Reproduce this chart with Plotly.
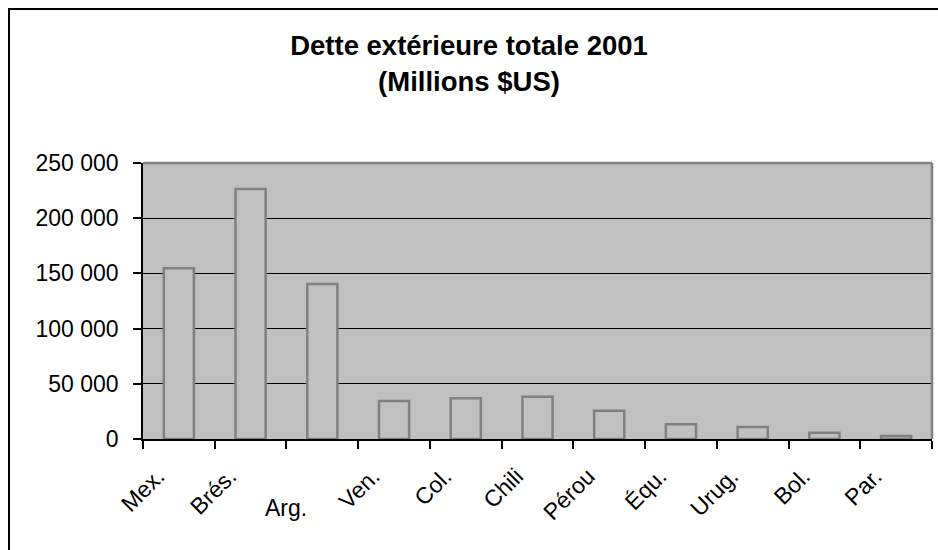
import plotly.graph_objects as go

categories = ["Mex.", "Brés.", "Arg.", "Ven.", "Col.", "Chili", "Pérou", "Équ.", "Urug.", "Bol.", "Par."]
debt_values = [154600, 226400, 140400, 34400, 36800, 38300, 25600, 13300, 10900, 5700, 2700]
y_tick_vals = [0, 50000, 100000, 150000, 200000, 250000]
y_tick_text = ["0", "50 000", "100 000", "150 000", "200 000", "250 000"]
# "Arg." is drawn horizontally in the reference, so it is left out of the rotated tick labels
x_tick_text = ["Mex.", "Brés.", "", "Ven.", "Col.", "Chili", "Pérou", "Équ.", "Urug.", "Bol.", "Par."]
flat_label = "Arg."

FONT = "Liberation Sans, Arial, sans-serif"
W, H = 938, 550
L, R, T, B = 143, 6, 163, 111
pw, ph = W - L - R, H - T - B

fig = go.Figure()
fig.add_trace(go.Bar(
    x=categories, y=debt_values,
    marker=dict(color="#C0C0C0", line=dict(color="#808080", width=2.5)),
    width=0.42,
))

fig.update_layout(
    width=W, height=H,
    margin=dict(l=L, r=R, t=T, b=B, pad=0),
    paper_bgcolor="white",
    plot_bgcolor="#C0C0C0",
    showlegend=False,
    font=dict(family=FONT, size=23, color="black"),
    title=dict(
        text="<b>Dette extérieure totale 2001<br>(Millions $US)</b>",
        x=0.5, xanchor="center", xref="container",
        y=1 - 55 / H, yanchor="top", yref="container",
        font=dict(family=FONT, size=27.5, color="black"),
    ),
    xaxis=dict(
        type="category",
        range=[-0.5, len(categories) - 0.5],
        tickmode="array", tickvals=categories, ticktext=x_tick_text,
        tickson="boundaries",
        ticks="outside", ticklen=8, tickcolor="black", tickwidth=1.5,
        tickangle=-45,
        ticklabelstandoff=13, ticklabelshift=-21,
        showline=True, linecolor="black", linewidth=1.5,
        showgrid=False, zeroline=False,
        tickfont=dict(family=FONT, size=23, color="black"),
    ),
    yaxis=dict(
        range=[0, 250000],
        tickmode="array", tickvals=y_tick_vals, ticktext=y_tick_text,
        ticks="outside", ticklen=8, tickcolor="black", tickwidth=1.5,
        ticklabelstandoff=10,
        showline=True, linecolor="black", linewidth=1.5,
        showgrid=True, gridcolor="black", gridwidth=1,
        zeroline=False,
        tickfont=dict(family=FONT, size=23, color="black"),
    ),
    shapes=[
        # grey top and right border of the plot area
        dict(type="line", xref="paper", yref="paper", x0=0, x1=1, y0=1, y1=1,
             line=dict(color="#808080", width=2.5), layer="above"),
        dict(type="line", xref="paper", yref="paper", x0=1, x1=1, y0=0, y1=1,
             line=dict(color="#808080", width=2.5), layer="above"),
        # outer chart frame (extends beyond the page on right and bottom)
        dict(type="rect", xref="paper", yref="paper",
             x0=(9 - L) / pw, x1=(W + 20 - L) / pw,
             y0=-(H + 20 - (H - B)) / ph, y1=(H - B - 9) / ph,
             line=dict(color="black", width=2), fillcolor="rgba(0,0,0,0)", layer="above"),
    ],
    annotations=[
        dict(text=flat_label, x=categories[2], xref="x", y=0, yref="y",
             xshift=-36, yshift=-69, xanchor="center", yanchor="middle",
             showarrow=False, font=dict(family=FONT, size=23, color="black")),
    ],
)

fig.write_html("out.html")
